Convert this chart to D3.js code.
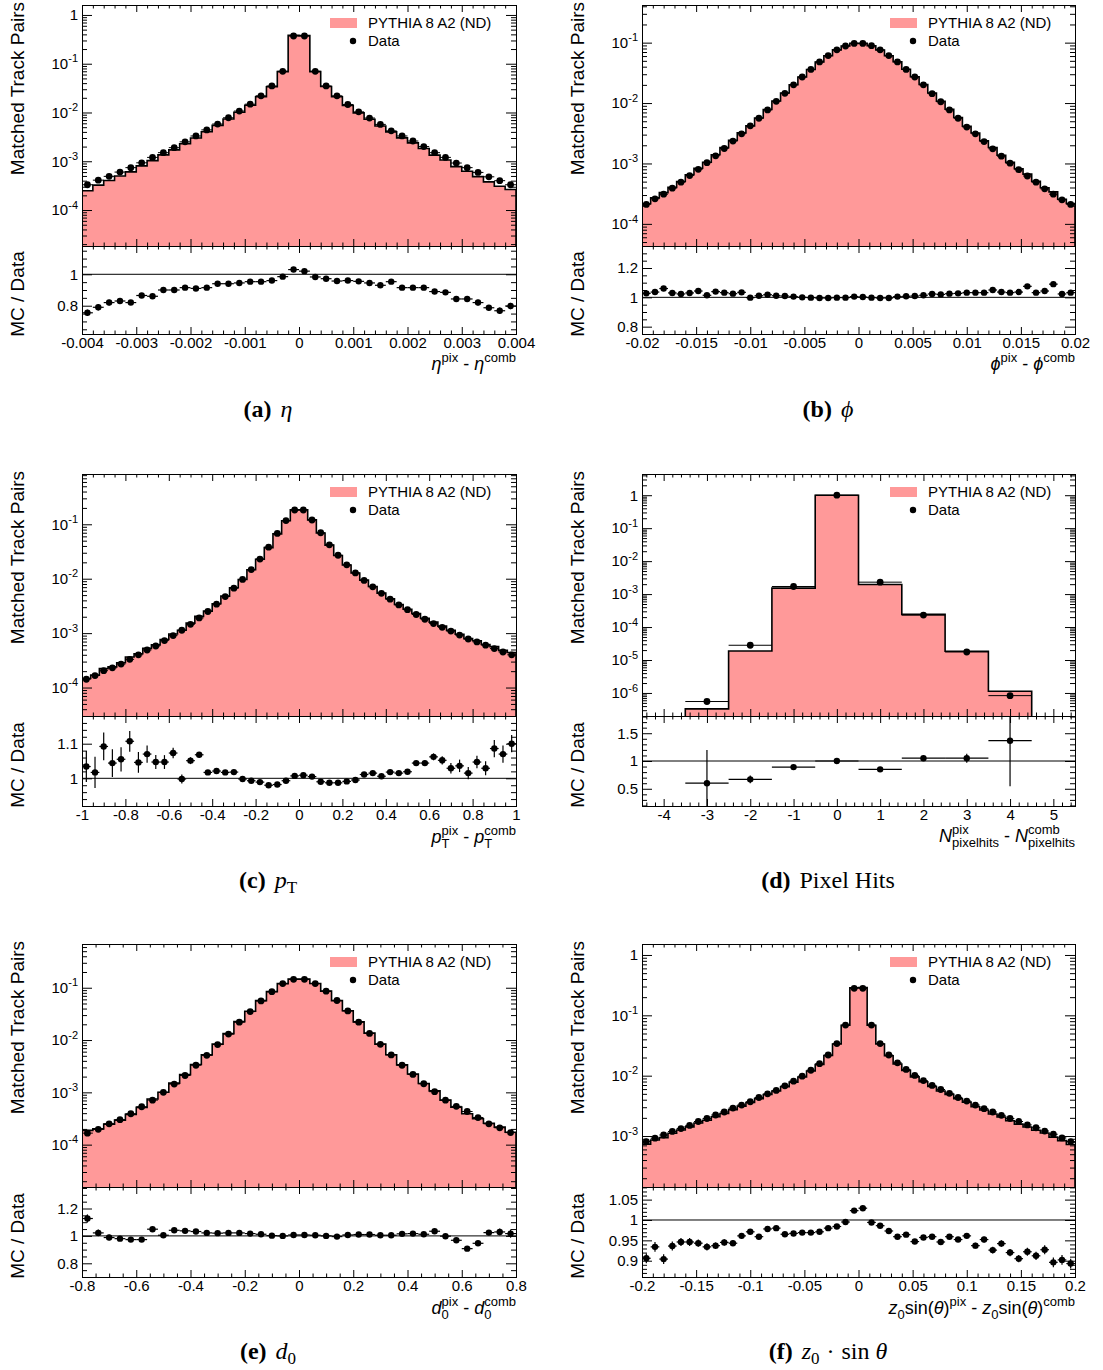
<!DOCTYPE html>
<html>
<head>
<meta charset="utf-8">
<script src="https://cdn.jsdelivr.net/npm/d3@7"></script>
<style>
body { margin: 0; background: #fff; }
svg text { font-family: "Liberation Sans", Arial, Helvetica, sans-serif; fill: #000; }
</style>
</head>
<body>
<div id="chart"></div>
<script>
// values (data = normalised counts, ratio = MC / Data)
const etaData = [3.3e-4,4.1e-4,4.9e-4,6.0e-4,7.4e-4,9.3e-4,1.2e-3,1.5e-3,1.9e-3,2.5e-3,3.3e-3,4.4e-3,5.8e-3,7.8e-3,1.07e-2,1.48e-2,2.2e-2,3.5e-2,7.0e-2,0.37,
                 0.37,0.07,0.035,0.022,0.0146,0.0103,0.0077,0.0057,0.0042,0.0033,0.0026,0.0020,0.0015,0.0012,9.2e-4,7.4e-4,5.9e-4,4.8e-4,4.0e-4,3.3e-4];
const etaRatio = [0.755,0.79,0.82,0.83,0.82,0.865,0.86,0.90,0.90,0.915,0.91,0.915,0.94,0.94,0.945,0.953,0.953,0.96,0.985,1.03,
                  1.02,0.983,0.972,0.957,0.96,0.955,0.945,0.93,0.953,0.915,0.915,0.915,0.89,0.885,0.843,0.843,0.82,0.787,0.768,0.798];
const etaErr = [0.02,0.02,0.018,0.018,0.016,0.015,0.014,0.013,0.012,0.011,0.01,0.01,0.009,0.009,0.008,0.008,0.007,0.007,0.006,0.005,
                0.005,0.006,0.007,0.007,0.008,0.008,0.009,0.009,0.01,0.01,0.011,0.012,0.013,0.014,0.015,0.016,0.018,0.018,0.02,0.02];

const phiData = [2.1e-4,2.6e-4,3.1e-4,3.9e-4,4.9e-4,6.3e-4,8.0e-4,1.03e-3,1.34e-3,1.77e-3,2.35e-3,3.1e-3,4.2e-3,5.6e-3,7.7e-3,1.07e-2,1.45e-2,2.0e-2,2.7e-2,3.6e-2,4.8e-2,6.1e-2,7.6e-2,8.8e-2,0.097,
                 0.097,0.089,0.076,0.061,0.048,0.036,0.027,0.020,0.0143,0.0105,7.7e-3,5.6e-3,4.0e-3,3.1e-3,2.3e-3,1.75e-3,1.32e-3,1.01e-3,7.9e-4,6.2e-4,4.9e-4,3.8e-4,3.1e-4,2.5e-4,2.1e-4];
const phiRatio = [1.027,1.036,1.06,1.03,1.023,1.03,1.043,1.014,1.039,1.032,1.025,1.034,0.998,1.011,1.018,1.011,1.009,1.005,1.0,0.998,0.995,0.995,0.998,0.998,1.005,
                  1.002,0.998,0.995,0.995,1.005,1.007,1.009,1.014,1.023,1.02,1.025,1.027,1.032,1.032,1.032,1.05,1.036,1.032,1.036,1.075,1.032,1.043,1.09,1.023,1.032];
const phiErr = [0.016,0.015,0.015,0.014,0.013,0.012,0.011,0.01,0.009,0.008,0.007,0.006,0.006,0.005,0.005,0.004,0.004,0.004,0.003,0.003,0.003,0.003,0.003,0.003,0.003,
                0.003,0.003,0.003,0.003,0.003,0.003,0.003,0.004,0.004,0.004,0.005,0.005,0.006,0.006,0.007,0.008,0.009,0.01,0.011,0.012,0.013,0.014,0.015,0.015,0.016];

const ptData = [1.42e-4,1.66e-4,2.04e-4,2.3e-4,2.7e-4,3.3e-4,4.0e-4,4.9e-4,5.8e-4,7.3e-4,9.0e-4,1.13e-3,1.45e-3,1.9e-3,2.5e-3,3.4e-3,4.7e-3,6.7e-3,9.7e-3,1.47e-2,2.3e-2,3.8e-2,6.8e-2,0.117,0.183,
                0.183,0.12,0.070,0.042,0.027,0.018,0.0128,9.3e-3,7.1e-3,5.4e-3,4.2e-3,3.3e-3,2.7e-3,2.2e-3,1.8e-3,1.5e-3,1.28e-3,1.09e-3,9.2e-4,7.8e-4,6.9e-4,6.0e-4,5.2e-4,4.5e-4,4.0e-4];
const ptRatio = [1.034,1.017,1.092,1.044,1.055,1.107,1.046,1.07,1.047,1.047,1.073,0.998,1.051,1.068,1.017,1.021,1.017,1.018,0.998,0.993,0.989,0.98,0.982,0.993,1.007,
                 1.009,1.005,0.99,0.987,0.987,0.991,0.995,1.011,1.015,1.006,1.018,1.015,1.019,1.044,1.044,1.062,1.052,1.029,1.036,1.015,1.047,1.029,1.086,1.07,1.1];
const ptErr = [0.045,0.045,0.04,0.04,0.035,0.03,0.03,0.025,0.02,0.02,0.015,0.013,0.01,0.008,0.006,0.005,0.005,0.004,0.004,0.003,0.003,0.003,0.003,0.003,0.003,
               0.003,0.003,0.003,0.003,0.003,0.003,0.003,0.004,0.004,0.004,0.005,0.005,0.006,0.006,0.007,0.01,0.012,0.015,0.018,0.018,0.018,0.02,0.025,0.025,0.025];

const pixHits = [-3,-2,-1,0,1,2,3,4];
const pixData = [5.5e-7,2.8e-5,1.7e-3,1.0,2.3e-3,2.3e-4,1.75e-5,8.3e-7];
const pixRatio = [0.60,0.67,0.89,1.0,0.85,1.05,1.05,1.365];
const pixErr = [0.6,0.07,0.02,0.005,0.01,0.02,0.08,0.82];

const d0Data = [1.66e-4,1.96e-4,2.5e-4,3.0e-4,3.9e-4,5.3e-4,7.1e-4,1.0e-3,1.44e-3,2.1e-3,3.3e-3,5.1e-3,8.2e-3,1.3e-2,2.2e-2,3.5e-2,5.6e-2,8.4e-2,0.12,0.145,
                0.145,0.12,0.086,0.057,0.036,0.022,0.0134,8.3e-3,5.2e-3,3.3e-3,2.2e-3,1.46e-3,1.03e-3,7.1e-4,5.4e-4,4.3e-4,3.3e-4,2.5e-4,2.1e-4,1.7e-4];
const d0Ratio = [1.127,1.022,0.988,0.98,0.973,0.973,1.049,1.005,1.041,1.037,1.032,1.022,1.02,1.022,1.022,1.017,1.012,1.002,1.0,1.007,
                 1.007,1.005,1.0,0.995,1.007,1.01,1.01,1.005,1.005,1.015,1.017,1.012,1.034,0.998,0.968,0.907,0.946,1.024,1.029,1.017];
const d0Err = [0.03,0.025,0.02,0.018,0.016,0.015,0.013,0.011,0.01,0.008,0.007,0.006,0.005,0.004,0.004,0.003,0.003,0.003,0.003,0.003,
               0.003,0.003,0.003,0.003,0.003,0.004,0.004,0.005,0.006,0.007,0.008,0.01,0.011,0.013,0.015,0.016,0.018,0.02,0.025,0.03];

const z0Data = [8.1e-4,9.2e-4,1.04e-3,1.19e-3,1.33e-3,1.5e-3,1.74e-3,1.95e-3,2.23e-3,2.5e-3,2.9e-3,3.26e-3,3.7e-3,4.35e-3,5.0e-3,5.7e-3,6.8e-3,8.1e-3,9.8e-3,1.23e-2,1.58e-2,2.2e-2,3.4e-2,6.9e-2,0.28,
                0.28,0.069,0.034,0.022,0.0163,0.0127,0.0101,8.3e-3,6.9e-3,5.9e-3,5.1e-3,4.35e-3,3.8e-3,3.26e-3,2.84e-3,2.5e-3,2.2e-3,1.95e-3,1.74e-3,1.53e-3,1.37e-3,1.21e-3,1.07e-3,9.3e-4,8.1e-4];
const z0Ratio = [0.906,0.934,0.904,0.936,0.946,0.946,0.943,0.934,0.937,0.945,0.943,0.961,0.971,0.959,0.978,0.98,0.965,0.967,0.969,0.969,0.971,0.98,0.984,0.995,1.023,
                 1.029,0.994,0.986,0.973,0.959,0.964,0.947,0.957,0.959,0.946,0.959,0.952,0.961,0.937,0.952,0.926,0.942,0.92,0.905,0.922,0.912,0.927,0.896,0.902,0.893];
const z0Err = [0.012,0.012,0.012,0.011,0.01,0.01,0.009,0.009,0.008,0.008,0.007,0.007,0.006,0.006,0.005,0.005,0.005,0.004,0.004,0.004,0.003,0.003,0.003,0.003,0.002,
               0.002,0.003,0.003,0.003,0.003,0.004,0.004,0.004,0.005,0.005,0.005,0.006,0.006,0.007,0.007,0.008,0.008,0.009,0.009,0.01,0.01,0.011,0.012,0.012,0.012];

// layout
const COLS = [{L: 82, R: 516, cx: 268}, {L: 642, R: 1075, cx: 828}];
const ROWS = [{T: 5, S: 246, B: 334, cap: 417}, {T: 474, S: 716, B: 806, cap: 888}, {T: 944, S: 1187, B: 1277, cap: 1359}];
const PINK = "#ff9999";
const SUP = {s: 13, dy: -8}, SUB = {s: 13, dy: 5};
const MINUS = {t: "-", s: 18, pl: 5, pr: 5};

const panels = [
  {col: 0, row: 0, data: etaData, ratio: etaRatio, err: etaErr, lo: -0.004, w: 0.0002,
   xDom: [-0.004, 0.004], xStep: 0.001, xSub: 5, yDom: [1.83e-5, 1.6], rDom: [0.62, 1.18], rStep: 0.2, rSub: 4, tDy: 36,
   title: [{t: "η", it: 1, s: 18}, {t: "pix", ...SUP}, MINUS, {t: "η", it: 1, s: 18}, {t: "comb", ...SUP}],
   cap: [{t: "(a)", b: 1}, {t: "η", it: 1, pl: 9}]},
  {col: 1, row: 0, data: phiData, ratio: phiRatio, err: phiErr, lo: -0.02, w: 0.0008,
   xDom: [-0.02, 0.02], xStep: 0.005, xSub: 5, yDom: [4.3e-5, 0.42], rDom: [0.75, 1.35], rStep: 0.2, rSub: 4, tDy: 36,
   title: [{t: "ϕ", it: 1, s: 18}, {t: "pix", ...SUP}, MINUS, {t: "ϕ", it: 1, s: 18}, {t: "comb", ...SUP}],
   cap: [{t: "(b)", b: 1}, {t: "ϕ", it: 1, pl: 9}]},
  {col: 0, row: 1, data: ptData, ratio: ptRatio, err: ptErr, lo: -1, w: 0.04,
   xDom: [-1, 1], xStep: 0.2, xSub: 4, yDom: [3.0e-5, 0.84], rDom: [0.92, 1.18], rStep: 0.1, rSub: 5, tDy: 37,
   title: [{t: "p", it: 1, s: 18}, {t: "pix", ...SUP}, {t: "T", ...SUB, stack: 1}, MINUS, {t: "p", it: 1, s: 18}, {t: "comb", ...SUP}, {t: "T", ...SUB, stack: 1}],
   cap: [{t: "(c)", b: 1}, {t: "p", it: 1, pl: 9}, {t: "T", s: 17, dy: 5}]},
  {col: 1, row: 1, data: pixData, ratio: pixRatio, err: pixErr, lo: -3.5, w: 1, centers: pixHits,
   xDom: [-4.5, 5.5], xStep: 1, xSub: 5, yDom: [2.0e-7, 4.4], rDom: [0.19, 1.81], rStep: 0.5, rSub: 5, tDy: 36,
   title: [{t: "N", it: 1, s: 18}, {t: "pix", ...SUP}, {t: "pixelhits", ...SUB, stack: 1}, MINUS, {t: "N", it: 1, s: 18}, {t: "comb", ...SUP}, {t: "pixelhits", ...SUB, stack: 1}],
   cap: [{t: "(d)", b: 1}, {t: "Pixel Hits", pl: 9}]},
  {col: 0, row: 2, data: d0Data, ratio: d0Ratio, err: d0Err, lo: -0.8, w: 0.04,
   xDom: [-0.8, 0.8], xStep: 0.2, xSub: 4, yDom: [1.55e-5, 0.686], rDom: [0.70, 1.357], rStep: 0.2, rSub: 4, tDy: 37,
   title: [{t: "d", it: 1, s: 18}, {t: "pix", ...SUP}, {t: "0", ...SUB, stack: 1}, MINUS, {t: "d", it: 1, s: 18}, {t: "comb", ...SUP}, {t: "0", ...SUB, stack: 1}],
   cap: [{t: "(e)", b: 1}, {t: "d", it: 1, pl: 9}, {t: "0", s: 17, dy: 5}]},
  {col: 1, row: 2, data: z0Data, ratio: z0Ratio, err: z0Err, lo: -0.2, w: 0.008,
   xDom: [-0.2, 0.2], xStep: 0.05, xSub: 5, yDom: [1.43e-4, 1.52], rDom: [0.86, 1.081], rStep: 0.05, rSub: 5, tDy: 37,
   title: [{t: "z", it: 1, s: 18}, {t: "0", ...SUB}, {t: "sin(", s: 18}, {t: "θ", it: 1, s: 18}, {t: ")", s: 18}, {t: "pix", ...SUP}, MINUS,
           {t: "z", it: 1, s: 18}, {t: "0", ...SUB}, {t: "sin(", s: 18}, {t: "θ", it: 1, s: 18}, {t: ")", s: 18}, {t: "comb", ...SUP}],
   cap: [{t: "(f)", b: 1}, {t: "z", it: 1, pl: 9}, {t: "0", s: 17, dy: 5}, {t: "·", pl: 7}, {t: "sin", pl: 7}, {t: "θ", it: 1, pl: 6}]}
];

const svg = d3.select("#chart").append("svg").attr("width", 1103).attr("height", 1370);
const defs = svg.append("defs");

const fmt = v => String(+v.toFixed(6));
function stepTicks(dom, step) {
  const out = [];
  for (let k = Math.ceil(dom[0] / step - 1e-9); k <= Math.floor(dom[1] / step + 1e-9); k++) out.push(+(k * step).toFixed(9));
  return out;
}
function minorTicks(dom, step, sub) {
  const maj = stepTicks(dom, step).map(v => v.toFixed(6));
  return stepTicks(dom, step / sub).filter(v => !maj.includes(v.toFixed(6)));
}
function logTicks(dom) {
  const maj = [], min = [];
  for (let e = Math.floor(Math.log10(dom[0])); e <= Math.ceil(Math.log10(dom[1])); e++) {
    for (let m = 1; m < 10; m++) {
      const v = m * Math.pow(10, e);
      if (v < dom[0] || v > dom[1]) continue;
      (m === 1 ? maj : min).push(v);
    }
  }
  return {maj, min};
}

// small rich-text helper: pieces laid out left to right, sub/sup stacking
function rich(parent, x, y, parts, anchor, family, baseSize) {
  const g = parent.append("g");
  let cx = 0, prevX = 0;
  parts.forEach(p => {
    const start = p.stack ? prevX : cx + (p.pl || 0);
    const t = g.append("text").attr("x", start).attr("y", p.dy || 0)
      .attr("font-size", p.s || baseSize).text(p.t);
    if (family) t.style("font-family", family);
    if (p.it) t.attr("font-style", "italic");
    if (p.b) t.attr("font-weight", "bold");
    const w = t.node().getComputedTextLength();
    if (p.stack) cx = Math.max(cx, start + w + (p.pr || 0));
    else { prevX = start; cx = start + w + (p.pr || 0); }
  });
  const shift = anchor === "end" ? -cx : anchor === "middle" ? -cx / 2 : 0;
  g.attr("transform", `translate(${x + shift},${y})`);
}

function styleAxis(g) {
  g.select(".domain").remove();
  g.attr("font-size", 15).attr("font-family", null).attr("color", "#000");
  g.selectAll(".tick line").attr("stroke-width", 1);
}

panels.forEach((p, i) => {
  const c = COLS[p.col], r = ROWS[p.row];
  const x = d3.scaleLinear().domain(p.xDom).range([c.L, c.R]);
  const y = d3.scaleLog().domain(p.yDom).range([r.S, r.T]);
  const yr = d3.scaleLinear().domain(p.rDom).range([r.B, r.S]);
  const n = p.data.length;
  const lo = k => p.lo + k * p.w;
  const mid = k => p.centers ? p.centers[k] : p.lo + (k + 0.5) * p.w;
  const mc = p.data.map((d, k) => d * p.ratio[k]);

  defs.append("clipPath").attr("id", "cm" + i).append("rect")
    .attr("x", c.L).attr("y", r.T).attr("width", c.R - c.L).attr("height", r.S - r.T);
  defs.append("clipPath").attr("id", "cr" + i).append("rect")
    .attr("x", c.L).attr("y", r.S).attr("width", c.R - c.L).attr("height", r.B - r.S);

  // ---- main pad ----
  const main = svg.append("g").attr("clip-path", `url(#cm${i})`);
  const pts = [[lo(0), p.yDom[0]]];
  mc.forEach((v, k) => { pts.push([lo(k), v]); pts.push([lo(k + 1), v]); });
  pts.push([lo(n), p.yDom[0]]);
  const line = d3.line().x(d => x(d[0])).y(d => y(d[1]));
  main.append("path").attr("d", line(pts) + "Z").attr("fill", PINK);
  main.append("path").attr("d", line(pts)).attr("fill", "none").attr("stroke", "#000").attr("stroke-width", 1.6);

  main.selectAll(".dbar").data(p.data).join("line")
    .attr("x1", (d, k) => x(lo(k))).attr("x2", (d, k) => x(lo(k + 1)))
    .attr("y1", d => y(d)).attr("y2", d => y(d)).attr("stroke", "#000");
  main.selectAll(".dpt").data(p.data).join("circle")
    .attr("cx", (d, k) => x(mid(k))).attr("cy", d => y(d)).attr("r", 3.4).attr("fill", "#000");

  // ---- ratio pad ----
  const rat = svg.append("g").attr("clip-path", `url(#cr${i})`);
  rat.append("line").attr("x1", c.L).attr("x2", c.R).attr("y1", yr(1)).attr("y2", yr(1)).attr("stroke", "#000");
  rat.selectAll(".rx").data(p.ratio).join("line")
    .attr("x1", (d, k) => x(lo(k))).attr("x2", (d, k) => x(lo(k + 1)))
    .attr("y1", d => yr(d)).attr("y2", d => yr(d)).attr("stroke", "#000").attr("stroke-width", 1.2);
  rat.selectAll(".ry").data(p.ratio).join("line")
    .attr("x1", (d, k) => x(mid(k))).attr("x2", (d, k) => x(mid(k)))
    .attr("y1", (d, k) => yr(d - p.err[k])).attr("y2", (d, k) => yr(d + p.err[k])).attr("stroke", "#000").attr("stroke-width", 1.2);
  rat.selectAll(".rp").data(p.ratio).join("circle")
    .attr("cx", (d, k) => x(mid(k))).attr("cy", d => yr(d)).attr("r", 3.2).attr("fill", "#000");

  // ---- axes ----
  const xMaj = stepTicks(p.xDom, p.xStep), xMin = minorTicks(p.xDom, p.xStep, p.xSub);
  const lt = logTicks(p.yDom);
  const rMaj = stepTicks(p.rDom, p.rStep), rMin = minorTicks(p.rDom, p.rStep, p.rSub);

  const ax = (axis, tx, ty) => svg.append("g").attr("transform", `translate(${tx},${ty})`).call(axis).call(styleAxis);

  // main pad y
  const yl = ax(d3.axisLeft(y).tickValues(lt.maj).tickSize(-10).tickPadding(4).tickFormat(() => ""), c.L, 0);
  yl.selectAll(".tick text").each(function (d) {
    const e = Math.round(Math.log10(d));
    const t = d3.select(this);
    if (e === 0) { t.text("1"); return; }
    t.append("tspan").text("10");
    t.append("tspan").attr("font-size", 11).attr("dy", "-0.6em").text(String(e));
  });
  ax(d3.axisLeft(y).tickValues(lt.min).tickSize(-5).tickFormat(""), c.L, 0);
  ax(d3.axisRight(y).tickValues(lt.maj).tickSize(-10).tickFormat(""), c.R, 0);
  ax(d3.axisRight(y).tickValues(lt.min).tickSize(-5).tickFormat(""), c.R, 0);
  // main pad x (no labels)
  ax(d3.axisBottom(x).tickValues(xMaj).tickSize(-7).tickFormat(""), 0, r.S);
  ax(d3.axisBottom(x).tickValues(xMin).tickSize(-3.5).tickFormat(""), 0, r.S);
  ax(d3.axisTop(x).tickValues(xMaj).tickSize(-7).tickFormat(""), 0, r.T);
  ax(d3.axisTop(x).tickValues(xMin).tickSize(-3.5).tickFormat(""), 0, r.T);
  // ratio pad
  ax(d3.axisLeft(yr).tickValues(rMaj).tickSize(-10).tickPadding(4).tickFormat(fmt), c.L, 0);
  ax(d3.axisLeft(yr).tickValues(rMin).tickSize(-5).tickFormat(""), c.L, 0);
  ax(d3.axisRight(yr).tickValues(rMaj).tickSize(-10).tickFormat(""), c.R, 0);
  ax(d3.axisRight(yr).tickValues(rMin).tickSize(-5).tickFormat(""), c.R, 0);
  ax(d3.axisBottom(x).tickValues(xMaj).tickSize(-7).tickPadding(3).tickFormat(fmt), 0, r.B);
  ax(d3.axisBottom(x).tickValues(xMin).tickSize(-3.5).tickFormat(""), 0, r.B);
  ax(d3.axisTop(x).tickValues(xMaj).tickSize(-7).tickFormat(""), 0, r.S);
  ax(d3.axisTop(x).tickValues(xMin).tickSize(-3.5).tickFormat(""), 0, r.S);

  // frames
  svg.append("rect").attr("x", c.L + 0.5).attr("y", r.T + 0.5).attr("width", c.R - c.L).attr("height", r.S - r.T)
    .attr("fill", "none").attr("stroke", "#000");
  svg.append("rect").attr("x", c.L + 0.5).attr("y", r.S + 0.5).attr("width", c.R - c.L).attr("height", r.B - r.S)
    .attr("fill", "none").attr("stroke", "#000");

  // axis titles
  svg.append("text").attr("transform", `translate(${c.L - 58},${r.T - 3}) rotate(-90)`)
    .attr("text-anchor", "end").attr("font-size", 19).text("Matched Track Pairs");
  svg.append("text").attr("transform", `translate(${c.L - 58},${(r.S + r.B) / 2 + 4}) rotate(-90)`)
    .attr("text-anchor", "middle").attr("font-size", 19).text("MC / Data");
  rich(svg, c.R, r.B + p.tDy, p.title, "end", null, 18);

  // legend
  const lg = svg.append("g").attr("transform", `translate(${c.L},${r.T})`);
  lg.append("rect").attr("x", 248).attr("y", 13).attr("width", 27).attr("height", 10).attr("fill", PINK);
  lg.append("text").attr("x", 286).attr("y", 23).attr("font-size", 15).text("PYTHIA 8 A2 (ND)");
  lg.append("circle").attr("cx", 271).attr("cy", 36).attr("r", 3.2).attr("fill", "#000");
  lg.append("text").attr("x", 286).attr("y", 41).attr("font-size", 15).text("Data");

  // caption
  rich(svg, c.cx, r.cap, p.cap, "middle", "'Liberation Serif', 'Times New Roman', serif", 24);
});
</script>
</body>
</html>
